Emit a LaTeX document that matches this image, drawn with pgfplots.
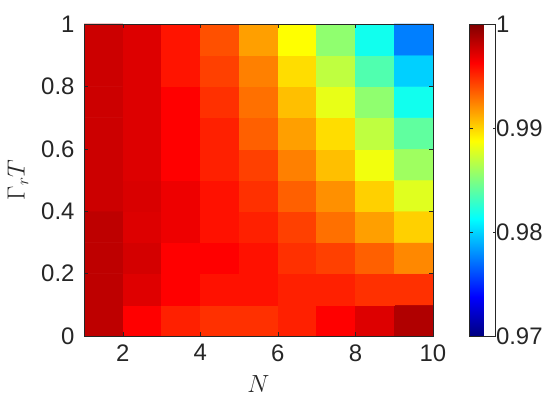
\documentclass[border=0pt]{standalone}
\usepackage{pgfplots}
\pgfplotsset{compat=1.18}
\usepackage{fontspec}
\setmainfont{Liberation Sans}
\definecolor{axgray}{RGB}{38,38,38}

\begin{document}
\begin{tikzpicture}
\begin{axis}[
    name=ax,
    scale only axis,
    width=349bp, height=312bp,
    xmin=1, xmax=10, ymin=0, ymax=1,
    enlargelimits=false,
    axis on top,
    xtick={2,4,6,8,10},
    ytick={0,0.2,0.4,0.6,0.8,1},
    tick align=inside,
    major tick length=4bp,
    tick style={axgray, line width=0.5bp},
    axis line style={axgray, line width=0.6bp},
    /pgf/number format/assume math mode=true,
    ticklabel style={font=\fontsize{24}{28}\selectfont, text=axgray},
    xticklabel style={yshift=-5bp},
    yticklabel style={xshift=-6bp},
    xlabel={$N$}, ylabel={$\Gamma_r T$},
    label style={font=\fontsize{26}{30}\selectfont, text=axgray},
    xlabel style={yshift=-7bp},
    ylabel style={yshift=6bp},
    colormap/jet,
    point meta min=0.97, point meta max=1,
    colorbar,
    colorbar style={
        at={(parent axis.north east)}, anchor=north west, xshift=28bp,
        width=26bp,
        ytick={0.97,0.98,0.99,1},
        yticklabel pos=right,
        tick align=inside,
        major tick length=3bp,
        axis line style={axgray, line width=0.6bp},
        ticklabel style={font=\fontsize{24}{28}\selectfont, text=axgray},
        yticklabel style={xshift=-3bp},
        /pgf/number format/assume math mode=true,
    },
]
\addplot[matrix plot*, mesh/cols=9, point meta=explicit] table[meta=c] {
x y c
1.5 0.05 0.99816
2.5 0.05 0.99625
3.5 0.05 0.99531
4.5 0.05 0.99483
5.5 0.05 0.99483
6.5 0.05 0.99531
7.5 0.05 0.99625
8.5 0.05 0.99726
9.5 0.05 0.99858
1.5 0.15 0.99816
2.5 0.15 0.99719
3.5 0.15 0.99625
4.5 0.15 0.99576
5.5 0.15 0.99576
6.5 0.15 0.99531
7.5 0.15 0.99531
8.5 0.15 0.99483
9.5 0.15 0.99483
1.5 0.25 0.99816
2.5 0.25 0.99753
3.5 0.25 0.99625
4.5 0.25 0.99625
5.5 0.25 0.99576
6.5 0.25 0.99483
7.5 0.25 0.99438
8.5 0.25 0.99344
9.5 0.25 0.99224
1.5 0.35 0.99816
2.5 0.35 0.99726
3.5 0.35 0.99674
4.5 0.35 0.99576
5.5 0.35 0.99531
6.5 0.35 0.99438
7.5 0.35 0.99295
8.5 0.35 0.99156
9.5 0.35 0.99014
1.5 0.45 0.99775
2.5 0.45 0.99738
3.5 0.45 0.99674
4.5 0.45 0.99576
5.5 0.45 0.99483
6.5 0.45 0.99344
7.5 0.45 0.99201
8.5 0.45 0.99014
9.5 0.45 0.98785
1.5 0.55 0.99775
2.5 0.55 0.99726
3.5 0.55 0.99625
4.5 0.55 0.99531
5.5 0.55 0.99438
6.5 0.55 0.99250
7.5 0.55 0.99063
8.5 0.55 0.98838
9.5 0.55 0.98594
1.5 0.65 0.99775
2.5 0.65 0.99726
3.5 0.65 0.99625
4.5 0.65 0.99531
5.5 0.65 0.99344
6.5 0.65 0.99156
7.5 0.65 0.98976
8.5 0.65 0.98688
9.5 0.65 0.98406
1.5 0.75 0.99775
2.5 0.75 0.99726
3.5 0.75 0.99625
4.5 0.75 0.99483
5.5 0.75 0.99295
6.5 0.75 0.99063
7.5 0.75 0.98808
8.5 0.75 0.98549
9.5 0.75 0.98174
1.5 0.85 0.99775
2.5 0.85 0.99726
3.5 0.85 0.99565
4.5 0.85 0.99438
5.5 0.85 0.99250
6.5 0.85 0.98976
7.5 0.85 0.98688
8.5 0.85 0.98361
9.5 0.85 0.97986
1.5 0.95 0.99775
2.5 0.95 0.99726
3.5 0.95 0.99565
4.5 0.95 0.99389
5.5 0.95 0.99156
6.5 0.95 0.98875
7.5 0.95 0.98549
8.5 0.95 0.98174
9.5 0.95 0.97750
};
\end{axis}
\pgfresetboundingbox
\path ([shift={(-84bp,-77bp)}]ax.south west) rectangle ([shift={(114bp,24bp)}]ax.north east);
\end{tikzpicture}
\end{document}
